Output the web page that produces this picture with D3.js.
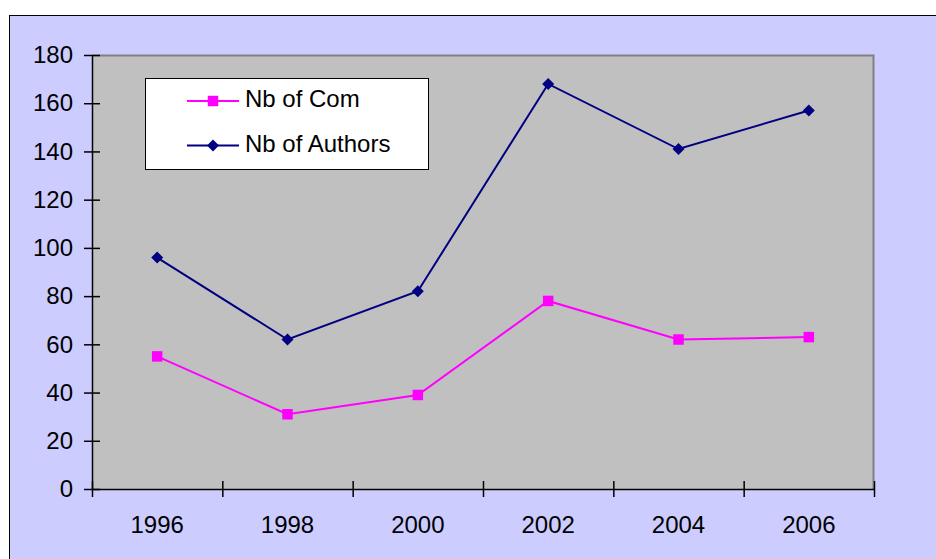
<!DOCTYPE html>
<html>
<head>
<meta charset="utf-8">
<script src="https://cdn.jsdelivr.net/npm/d3@7"></script>
<style>
  body { margin: 0; background: #ffffff; }
  text { font-family: "Liberation Sans", Arial, sans-serif; }
</style>
</head>
<body>
<div id="chart"></div>
<script>
// Data
//= ================================
var years = ["1996", "1998", "2000", "2002", "2004", "2006"];
var nbCom = [55, 31, 39, 78, 62, 63];
var nbAuthors = [96, 62, 82, 168, 141, 157];
var seriesNames = ["Nb of Com", "Nb of Authors"];
var yTicks = [0, 20, 40, 60, 80, 100, 120, 140, 160, 180];

// Set up chart
//= ================================
var svgWidth = 936;
var svgHeight = 559;

var margin = {
  top: 55,
  right: 62,
  bottom: 70,
  left: 92
};

var width = svgWidth - margin.left - margin.right;
var height = svgHeight - margin.top - margin.bottom;

var svg = d3.select("#chart")
  .append("svg")
  .attr("width", svgWidth)
  .attr("height", svgHeight);

// outer chart area (runs off the right and bottom of the page)
svg.append("rect")
  .attr("x", 9.5)
  .attr("y", 15.5)
  .attr("width", svgWidth + 20)
  .attr("height", svgHeight + 20)
  .attr("fill", "#ccccff")
  .attr("stroke", "#000000")
  .attr("stroke-width", 1);

var chartGroup = svg.append("g")
  .attr("transform", `translate(${margin.left}, ${margin.top})`);

// create scales
var xBandScale = d3.scaleBand()
  .domain(years)
  .range([0, width])
  .padding(0);

var xTickScale = d3.scaleLinear()
  .domain([0, years.length])
  .range([0, width]);

var yLinearScale = d3.scaleLinear()
  .domain([0, 180])
  .range([height, 0]);

// plot area
chartGroup.append("rect")
  .attr("width", width)
  .attr("height", height)
  .attr("fill", "#c0c0c0");

chartGroup.append("path")
  .attr("d", `M0,0.5H${width - 0.5}V${height}`)
  .attr("fill", "none")
  .attr("stroke", "#808080")
  .attr("stroke-width", 2);

// Create axis functions
var leftAxis = d3.axisLeft(yLinearScale)
  .tickValues(yTicks)
  .tickSize(8)
  .tickSizeOuter(0)
  .tickPadding(11);

var tickAxis = d3.axisBottom(xTickScale)
  .ticks(years.length)
  .tickFormat("")
  .tickSize(8)
  .tickSizeOuter(0);

var labelAxis = d3.axisBottom(xBandScale)
  .tickSize(0)
  .tickPadding(27);

// Append Axes to the chart
var yAxisGroup = chartGroup.append("g")
  .call(leftAxis);

yAxisGroup.selectAll(".tick line")
  .attr("x1", 8);

var xTickGroup = chartGroup.append("g")
  .attr("transform", `translate(0, ${height})`)
  .call(tickAxis);

xTickGroup.selectAll(".tick line")
  .attr("y1", -8);

var xLabelGroup = chartGroup.append("g")
  .attr("transform", `translate(0, ${height})`)
  .call(labelAxis);

xLabelGroup.select(".domain").remove();

chartGroup.selectAll(".domain, .tick line")
  .attr("stroke", "#000000")
  .attr("stroke-width", 1.5);

chartGroup.selectAll(".tick text")
  .attr("font-family", "'Liberation Sans', Arial, sans-serif")
  .attr("font-size", "24px")
  .attr("fill", "#000000");

// Create the lines
var xCenter = (d, i) => xBandScale(years[i]) + xBandScale.bandwidth() / 2;

var lineGen = d3.line()
  .x(xCenter)
  .y(d => yLinearScale(d));

chartGroup.append("path")
  .datum(nbAuthors)
  .attr("d", lineGen)
  .attr("fill", "none")
  .attr("stroke", "#000080")
  .attr("stroke-width", 2);

chartGroup.append("path")
  .datum(nbCom)
  .attr("d", lineGen)
  .attr("fill", "none")
  .attr("stroke", "#ff00ff")
  .attr("stroke-width", 2);

// markers
var squareSymbol = d3.symbol(d3.symbolSquare, 110);
var diamondSymbol = d3.symbol(d3.symbolSquare, 72);

chartGroup.selectAll(".authorMark")
  .data(nbAuthors)
  .enter()
  .append("path")
  .attr("class", "authorMark")
  .attr("d", diamondSymbol)
  .attr("transform", (d, i) => `translate(${xCenter(d, i)}, ${yLinearScale(d)}) rotate(45)`)
  .attr("fill", "#000080");

chartGroup.selectAll(".comMark")
  .data(nbCom)
  .enter()
  .append("path")
  .attr("class", "comMark")
  .attr("d", squareSymbol)
  .attr("transform", (d, i) => `translate(${xCenter(d, i)}, ${yLinearScale(d)})`)
  .attr("fill", "#ff00ff");

// Legend
var legend = svg.append("g");

legend.append("rect")
  .attr("x", 145.5)
  .attr("y", 78.5)
  .attr("width", 283)
  .attr("height", 91)
  .attr("fill", "#ffffff")
  .attr("stroke", "#000000")
  .attr("stroke-width", 1);

var legendRows = [
  { name: seriesNames[0], color: "#ff00ff", symbol: squareSymbol, rotate: 0, y: 101 },
  { name: seriesNames[1], color: "#000080", symbol: diamondSymbol, rotate: 45, y: 145.5 }
];

legendRows.forEach(function(row) {
  legend.append("line")
    .attr("x1", 187)
    .attr("x2", 239)
    .attr("y1", row.y)
    .attr("y2", row.y)
    .attr("stroke", row.color)
    .attr("stroke-width", 2);

  legend.append("path")
    .attr("d", row.symbol)
    .attr("transform", `translate(213, ${row.y}) rotate(${row.rotate})`)
    .attr("fill", row.color);

  legend.append("text")
    .attr("x", 245)
    .attr("y", row.y + 6)
    .style("font-size", "24px")
    .style("fill", "#000000")
    .text(row.name);
});
</script>
</body>
</html>
